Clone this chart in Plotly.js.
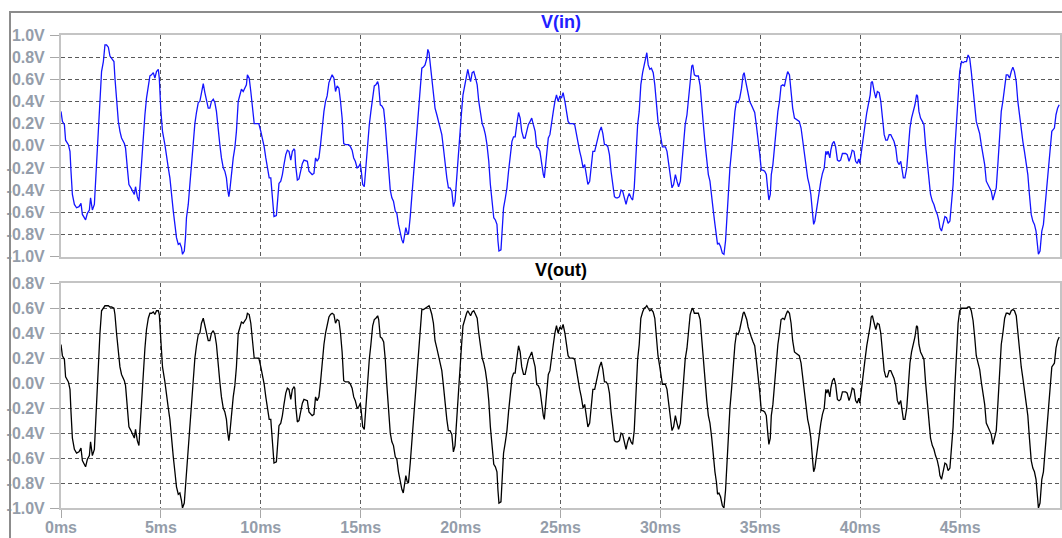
<!DOCTYPE html>
<html>
<head>
<meta charset="utf-8">
<script src="https://cdn.plot.ly/plotly-3.0.1.min.js"></script>
<style>
  html, body { margin: 0; padding: 0; background: #ffffff; overflow: hidden; }
  #chart { position: absolute; left: 0; top: 0; width: 1062px; height: 538px; }
  #frame { position: absolute; left: 9px; top: 11px; width: 1200px; height: 700px;
           border-left: 2px solid #8c8c8c; border-top: 2px solid #8c8c8c; pointer-events: none; }
</style>
</head>
<body>
<div id="chart"></div>
<div id="frame"></div>
<script>
// ---- sample times (ms) ----
const timeMs = [
  0.00,0.07,0.17,0.23,0.37,0.45,0.50,0.57,0.67,0.78,0.90,1.00,1.07,1.17,1.23,1.32,1.42,1.48,1.57,1.67,1.73,1.80,1.87,1.95,2.03,2.12,2.20,2.28,2.37,2.45,2.53,2.65,2.70,2.78,2.87,2.95,3.03,3.17,3.23,3.32,3.40,3.50,3.58,3.67,3.73,3.82,3.90,3.97,4.03,4.12,4.20,4.28,4.37,4.45,4.53,4.62,4.70,4.78,4.87,4.92,5.00,5.08,5.20,5.28,5.37,5.45,5.53,5.62,5.70,5.78,5.87,5.95,6.03,6.08,6.17,6.23,6.28,6.37,6.45,6.53,6.62,6.70,6.78,6.87,6.95,7.03,7.12,7.20,7.28,7.37,7.45,7.53,7.62,7.70,7.78,7.87,7.95,8.03,8.12,8.20,8.28,8.33,8.40,8.45,8.53,8.62,8.70,8.78,8.87,8.95,9.03,9.12,9.20,9.28,9.33,9.42,9.50,9.58,9.67,9.78,9.90,10.00,10.08,
  10.17,10.25,10.33,10.42,10.50,10.55,10.61,10.66,10.78,10.85,10.91,11.00,11.08,11.16,11.25,11.33,11.41,11.50,11.58,11.66,11.70,11.74,11.83,11.91,12.00,12.08,12.16,12.33,12.41,12.49,12.57,12.66,12.74,12.82,12.91,12.99,13.07,13.16,13.24,13.32,13.41,13.49,13.57,13.66,13.74,13.82,13.91,13.99,14.07,14.15,14.24,14.40,14.49,14.57,14.65,14.73,14.82,14.90,14.98,15.03,15.10,15.18,15.23,15.28,15.35,15.43,15.51,15.60,15.68,15.76,15.85,15.90,15.98,16.06,16.15,16.23,16.31,16.40,16.48,16.56,16.64,16.73,16.81,16.89,16.98,17.06,17.13,17.19,17.26,17.33,17.39,17.48,17.56,17.64,17.72,17.81,17.89,17.97,18.06,18.14,18.22,18.31,18.36,18.42,18.47,18.56,18.64,18.72,18.81,18.89,18.97,19.06,19.14,19.22,19.31,19.39,19.47,19.56,19.64,19.72,19.79,19.86,19.92,20.00,
  20.05,20.12,20.22,20.30,20.36,20.45,20.50,20.58,20.66,20.75,20.83,20.91,20.99,21.08,21.16,21.24,21.32,21.41,21.49,21.57,21.66,21.74,21.82,21.87,21.92,22.02,22.07,22.15,22.24,22.32,22.40,22.48,22.57,22.65,22.73,22.81,22.90,22.98,23.06,23.15,23.23,23.31,23.39,23.48,23.56,23.64,23.73,23.81,23.89,23.97,24.06,24.14,24.19,24.26,24.30,24.39,24.47,24.55,24.64,24.72,24.80,24.88,24.97,25.05,25.13,25.22,25.30,25.38,25.46,25.63,25.71,25.79,25.88,25.96,26.04,26.13,26.21,26.29,26.37,26.46,26.54,26.62,26.71,26.79,26.87,26.95,27.04,27.12,27.20,27.28,27.37,27.45,27.53,27.62,27.70,27.78,27.86,27.95,28.03,28.11,28.19,28.28,28.36,28.44,28.53,28.61,28.69,28.77,28.86,28.94,29.02,29.11,29.19,29.27,29.32,29.39,29.47,29.55,29.64,29.72,29.80,29.88,29.96,30.04,
  30.10,30.17,30.25,30.33,30.41,30.50,30.58,30.66,30.75,30.83,30.91,31.00,31.08,31.16,31.24,31.33,31.41,31.49,31.57,31.62,31.70,31.79,31.90,31.99,32.07,32.15,32.24,32.32,32.40,32.48,32.57,32.65,32.73,32.81,32.86,32.93,33.01,33.10,33.18,33.26,33.33,33.39,33.48,33.56,33.64,33.73,33.81,33.89,33.97,34.06,34.14,34.19,34.26,34.32,34.39,34.47,34.55,34.64,34.72,34.80,34.89,34.97,35.05,35.13,35.22,35.30,35.38,35.43,35.50,35.55,35.63,35.71,35.79,35.88,35.96,36.04,36.13,36.21,36.29,36.37,36.46,36.54,36.62,36.71,36.79,36.87,36.95,37.04,37.12,37.20,37.29,37.37,37.45,37.53,37.62,37.67,37.73,37.80,37.86,37.95,38.03,38.11,38.20,38.28,38.33,38.39,38.48,38.53,38.61,38.69,38.77,38.86,38.94,39.02,39.11,39.19,39.27,39.35,39.44,39.52,39.60,39.69,39.77,39.85,39.93,39.98,
  40.04,40.10,40.17,40.25,40.33,40.42,40.50,40.55,40.61,40.70,40.78,40.86,40.95,41.03,41.11,41.20,41.28,41.36,41.45,41.53,41.61,41.69,41.78,41.86,41.94,42.03,42.08,42.16,42.24,42.33,42.41,42.49,42.57,42.66,42.74,42.82,42.87,42.94,43.02,43.11,43.19,43.27,43.36,43.44,43.52,43.61,43.69,43.77,43.86,43.94,43.99,44.07,44.15,44.24,44.32,44.40,44.49,44.57,44.65,44.73,44.82,44.90,44.98,45.07,45.15,45.23,45.32,45.40,45.48,45.56,45.65,45.73,45.81,45.90,45.98,46.06,46.15,46.23,46.31,46.40,46.48,46.56,46.64,46.73,46.81,46.89,46.98,47.06,47.14,47.23,47.31,47.39,47.48,47.56,47.64,47.72,47.81,47.89,47.97,48.06,48.14,48.22,48.31,48.39,48.47,48.56,48.64,48.72,48.80,48.85,48.92,49.00,49.09,49.17,49.25,49.34,49.42,49.50,49.59,49.67,49.72,49.80,49.88,49.96
];

// ---- V(in) values (V) ----
const vIn = [
  0.31,0.22,0.19,0.05,0.01,-0.05,-0.23,-0.44,-0.53,-0.56,-0.55,-0.52,-0.62,-0.65,-0.67,-0.61,-0.58,-0.47,-0.58,-0.53,-0.32,-0.05,0.19,0.40,0.67,0.76,0.91,0.91,0.89,0.81,0.79,0.76,0.61,0.40,0.22,0.13,0.07,0.02,-0.02,-0.20,-0.35,-0.38,-0.41,-0.44,-0.37,-0.46,-0.50,-0.32,-0.11,0.13,0.28,0.43,0.55,0.63,0.64,0.66,0.61,0.67,0.69,0.61,0.31,0.13,0.01,-0.11,-0.20,-0.29,-0.47,-0.59,-0.71,-0.83,-0.89,-0.88,-0.92,-0.98,-0.95,-0.83,-0.65,-0.53,-0.35,-0.17,0.04,0.20,0.30,0.39,0.40,0.49,0.56,0.48,0.42,0.34,0.34,0.40,0.42,0.39,0.31,0.13,0.01,-0.11,-0.20,-0.23,-0.29,-0.38,-0.46,-0.40,-0.23,-0.11,-0.02,0.13,0.40,0.45,0.51,0.49,0.52,0.55,0.64,0.61,0.49,0.37,0.20,0.20,0.20,0.13,0.07,
  -0.01,-0.11,-0.20,-0.29,-0.29,-0.38,-0.53,-0.64,-0.63,-0.47,-0.34,-0.32,-0.26,-0.17,-0.08,-0.04,-0.05,-0.13,-0.05,-0.03,-0.04,-0.17,-0.31,-0.30,-0.23,-0.16,-0.13,-0.14,-0.23,-0.25,-0.26,-0.25,-0.11,-0.14,-0.11,0.01,0.16,0.31,0.40,0.45,0.57,0.61,0.64,0.61,0.49,0.54,0.52,0.40,0.25,0.02,0.01,0.01,-0.01,-0.04,-0.11,-0.14,-0.20,-0.19,-0.16,-0.23,-0.35,-0.37,-0.26,-0.11,0.04,0.19,0.31,0.46,0.54,0.55,0.58,0.54,0.37,0.36,0.33,0.19,-0.02,-0.23,-0.40,-0.47,-0.50,-0.59,-0.61,-0.71,-0.80,-0.85,-0.88,-0.80,-0.74,-0.79,-0.80,-0.64,-0.46,-0.29,-0.11,0.10,0.28,0.46,0.70,0.71,0.73,0.79,0.87,0.84,0.76,0.61,0.49,0.34,0.28,0.22,0.16,0.10,-0.02,-0.17,-0.29,-0.38,-0.38,-0.41,-0.55,-0.50,-0.32,-0.14,0.05,0.16,
  0.31,0.46,0.57,0.64,0.69,0.61,0.58,0.66,0.67,0.61,0.55,0.40,0.28,0.20,0.16,0.10,0.01,-0.14,-0.35,-0.50,-0.65,-0.67,-0.71,-0.86,-0.95,-0.94,-0.80,-0.56,-0.47,-0.38,-0.23,-0.11,0.04,0.08,0.08,0.19,0.30,0.25,0.13,0.07,0.07,0.13,0.19,0.22,0.25,0.19,0.13,-0.01,-0.02,-0.05,-0.17,-0.26,-0.29,-0.17,-0.05,0.07,0.10,0.22,0.31,0.40,0.46,0.40,0.45,0.43,0.48,0.40,0.31,0.22,0.20,0.20,0.19,0.10,0.02,-0.05,-0.11,-0.20,-0.17,-0.26,-0.35,-0.32,-0.17,-0.05,-0.05,0.01,0.08,0.13,0.17,0.11,0.01,0.01,-0.01,-0.08,-0.23,-0.38,-0.46,-0.47,-0.47,-0.46,-0.40,-0.41,-0.47,-0.53,-0.47,-0.43,-0.47,-0.49,-0.38,-0.11,0.19,0.31,0.55,0.66,0.73,0.82,0.84,0.73,0.69,0.70,0.66,0.55,0.35,0.22,0.14,0.05,
  -0.01,-0.01,-0.01,-0.05,-0.17,-0.26,-0.38,-0.35,-0.26,-0.32,-0.37,-0.32,-0.14,0.07,0.19,0.28,0.42,0.61,0.72,0.73,0.64,0.63,0.63,0.54,0.34,0.19,0.01,-0.14,-0.26,-0.32,-0.44,-0.59,-0.71,-0.80,-0.89,-0.88,-0.91,-0.97,-0.98,-0.86,-0.65,-0.41,-0.20,-0.05,0.13,0.31,0.40,0.39,0.43,0.52,0.64,0.66,0.59,0.54,0.45,0.40,0.37,0.33,0.30,0.19,0.07,-0.07,-0.22,-0.22,-0.23,-0.26,-0.41,-0.49,-0.44,-0.26,-0.17,0.01,0.16,0.31,0.40,0.54,0.55,0.54,0.61,0.67,0.64,0.49,0.34,0.25,0.24,0.23,0.22,0.16,0.04,-0.05,-0.17,-0.29,-0.35,-0.44,-0.62,-0.71,-0.68,-0.59,-0.53,-0.41,-0.32,-0.25,-0.20,-0.05,-0.08,-0.05,-0.11,-0.04,0.02,0.04,-0.01,-0.13,-0.14,-0.13,-0.07,-0.07,-0.07,-0.08,-0.14,-0.10,-0.04,-0.05,-0.14,-0.16,-0.12,-0.16,
  -0.08,0.05,0.13,0.20,0.30,0.37,0.46,0.57,0.58,0.49,0.43,0.49,0.48,0.40,0.22,0.10,0.05,0.05,0.10,0.10,0.07,0.04,-0.02,-0.14,-0.17,-0.14,-0.20,-0.29,-0.29,-0.20,-0.02,0.16,0.25,0.31,0.37,0.46,0.45,0.31,0.25,0.22,0.19,0.01,-0.17,-0.35,-0.44,-0.50,-0.53,-0.58,-0.62,-0.68,-0.74,-0.77,-0.71,-0.64,-0.65,-0.70,-0.68,-0.53,-0.35,-0.05,0.22,0.49,0.67,0.76,0.75,0.76,0.76,0.82,0.79,0.67,0.52,0.37,0.22,0.16,0.11,0.01,-0.08,-0.17,-0.32,-0.35,-0.37,-0.41,-0.49,-0.44,-0.38,-0.17,0.10,0.31,0.40,0.55,0.64,0.64,0.61,0.67,0.71,0.67,0.58,0.40,0.28,0.13,0.04,-0.05,-0.17,-0.26,-0.44,-0.62,-0.68,-0.71,-0.77,-0.86,-0.98,-0.95,-0.77,-0.71,-0.53,-0.38,-0.23,-0.05,0.13,0.15,0.16,0.28,0.34,0.37
];

// ---- V(out) values (V) ----
const vOut = [
  0.31,0.22,0.19,0.05,0.01,-0.05,-0.23,-0.44,-0.53,-0.56,-0.55,-0.52,-0.62,-0.65,-0.67,-0.61,-0.58,-0.47,-0.58,-0.53,-0.32,-0.05,0.19,0.40,0.58,0.60,0.62,0.62,0.62,0.61,0.61,0.60,0.55,0.40,0.22,0.13,0.07,0.02,-0.02,-0.20,-0.35,-0.38,-0.41,-0.44,-0.37,-0.46,-0.50,-0.32,-0.11,0.13,0.28,0.43,0.52,0.56,0.56,0.57,0.55,0.58,0.58,0.55,0.31,0.13,0.01,-0.11,-0.20,-0.29,-0.47,-0.59,-0.71,-0.83,-0.89,-0.88,-0.94,-1.00,-0.96,-0.83,-0.65,-0.53,-0.35,-0.17,0.04,0.20,0.30,0.39,0.40,0.48,0.52,0.47,0.42,0.34,0.34,0.40,0.42,0.39,0.31,0.13,0.01,-0.11,-0.20,-0.23,-0.29,-0.38,-0.46,-0.40,-0.23,-0.11,-0.02,0.13,0.40,0.45,0.49,0.48,0.50,0.52,0.56,0.55,0.48,0.37,0.20,0.20,0.20,0.13,0.07,
  -0.01,-0.11,-0.20,-0.29,-0.29,-0.38,-0.53,-0.64,-0.63,-0.47,-0.34,-0.32,-0.26,-0.17,-0.08,-0.04,-0.05,-0.13,-0.05,-0.03,-0.04,-0.17,-0.31,-0.30,-0.23,-0.16,-0.13,-0.14,-0.23,-0.25,-0.26,-0.25,-0.11,-0.14,-0.11,0.01,0.16,0.31,0.40,0.45,0.53,0.55,0.56,0.55,0.48,0.51,0.50,0.40,0.25,0.02,0.01,0.01,-0.01,-0.04,-0.11,-0.14,-0.20,-0.19,-0.16,-0.23,-0.35,-0.37,-0.26,-0.11,0.04,0.19,0.31,0.46,0.51,0.52,0.54,0.51,0.37,0.36,0.33,0.19,-0.02,-0.23,-0.40,-0.47,-0.50,-0.59,-0.61,-0.71,-0.80,-0.85,-0.88,-0.80,-0.74,-0.79,-0.80,-0.64,-0.46,-0.29,-0.11,0.10,0.28,0.46,0.59,0.59,0.60,0.61,0.62,0.62,0.60,0.55,0.48,0.34,0.28,0.22,0.16,0.10,-0.02,-0.17,-0.29,-0.38,-0.38,-0.41,-0.55,-0.50,-0.32,-0.14,0.05,0.16,
  0.31,0.46,0.53,0.56,0.58,0.55,0.54,0.57,0.58,0.55,0.52,0.40,0.28,0.20,0.16,0.10,0.01,-0.14,-0.35,-0.50,-0.65,-0.67,-0.71,-0.86,-0.96,-0.95,-0.80,-0.56,-0.47,-0.38,-0.23,-0.11,0.04,0.08,0.08,0.19,0.30,0.25,0.13,0.07,0.07,0.13,0.19,0.22,0.25,0.19,0.13,-0.01,-0.02,-0.05,-0.17,-0.26,-0.29,-0.17,-0.05,0.07,0.10,0.22,0.31,0.40,0.46,0.40,0.45,0.43,0.47,0.40,0.31,0.22,0.20,0.20,0.19,0.10,0.02,-0.05,-0.11,-0.20,-0.17,-0.26,-0.35,-0.32,-0.17,-0.05,-0.05,0.01,0.08,0.13,0.17,0.11,0.01,0.01,-0.01,-0.08,-0.23,-0.38,-0.46,-0.47,-0.47,-0.46,-0.40,-0.41,-0.47,-0.53,-0.47,-0.43,-0.47,-0.49,-0.38,-0.11,0.19,0.31,0.52,0.57,0.60,0.61,0.62,0.60,0.58,0.59,0.57,0.52,0.35,0.22,0.14,0.05,
  -0.01,-0.01,-0.01,-0.05,-0.17,-0.26,-0.38,-0.35,-0.26,-0.32,-0.37,-0.32,-0.14,0.07,0.19,0.28,0.42,0.55,0.59,0.60,0.56,0.56,0.56,0.51,0.34,0.19,0.01,-0.14,-0.26,-0.32,-0.44,-0.59,-0.71,-0.80,-0.89,-0.88,-0.91,-0.98,-1.00,-0.86,-0.65,-0.41,-0.20,-0.05,0.13,0.31,0.40,0.39,0.43,0.50,0.56,0.57,0.54,0.51,0.45,0.40,0.37,0.33,0.30,0.19,0.07,-0.07,-0.22,-0.22,-0.23,-0.26,-0.41,-0.49,-0.44,-0.26,-0.17,0.01,0.16,0.31,0.40,0.51,0.52,0.51,0.55,0.58,0.56,0.48,0.34,0.25,0.24,0.23,0.22,0.16,0.04,-0.05,-0.17,-0.29,-0.35,-0.44,-0.62,-0.71,-0.68,-0.59,-0.53,-0.41,-0.32,-0.25,-0.20,-0.05,-0.08,-0.05,-0.11,-0.04,0.02,0.04,-0.01,-0.13,-0.14,-0.13,-0.07,-0.07,-0.07,-0.08,-0.14,-0.10,-0.04,-0.05,-0.14,-0.16,-0.12,-0.16,
  -0.08,0.05,0.13,0.20,0.30,0.37,0.46,0.53,0.54,0.48,0.43,0.48,0.47,0.40,0.22,0.10,0.05,0.05,0.10,0.10,0.07,0.04,-0.02,-0.14,-0.17,-0.14,-0.20,-0.29,-0.29,-0.20,-0.02,0.16,0.25,0.31,0.37,0.46,0.45,0.31,0.25,0.22,0.19,0.01,-0.17,-0.35,-0.44,-0.50,-0.53,-0.58,-0.62,-0.68,-0.74,-0.77,-0.71,-0.64,-0.65,-0.70,-0.68,-0.53,-0.35,-0.05,0.22,0.48,0.58,0.60,0.60,0.60,0.60,0.61,0.61,0.58,0.50,0.37,0.22,0.16,0.11,0.01,-0.08,-0.17,-0.32,-0.35,-0.37,-0.41,-0.49,-0.44,-0.38,-0.17,0.10,0.31,0.40,0.52,0.56,0.56,0.55,0.58,0.59,0.58,0.54,0.40,0.28,0.13,0.04,-0.05,-0.17,-0.26,-0.44,-0.62,-0.68,-0.71,-0.77,-0.86,-1.00,-0.96,-0.77,-0.71,-0.53,-0.38,-0.23,-0.05,0.13,0.15,0.16,0.28,0.34,0.37
];

// ---- tick values and labels ----
const xTickVals = [0, 5, 10, 15, 20, 25, 30, 35, 40, 45];
const xTickText = ["0ms", "5ms", "10ms", "15ms", "20ms", "25ms", "30ms", "35ms", "40ms", "45ms"];
const yInTickVals = [1.0, 0.8, 0.6, 0.4, 0.2, 0.0, -0.2, -0.4, -0.6, -0.8, -1.0];
const yInTickText = ["1.0V", "0.8V", "0.6V", "0.4V", "0.2V", "0.0V", "-0.2V", "-0.4V", "-0.6V", "-0.8V", "-1.0V"];
const yOutTickVals = [0.8, 0.6, 0.4, 0.2, 0.0, -0.2, -0.4, -0.6, -0.8, -1.0];
const yOutTickText = ["0.8V", "0.6V", "0.4V", "0.2V", "0.0V", "-0.2V", "-0.4V", "-0.6V", "-0.8V", "-1.0V"];
const panelTitles = ["V(in)", "V(out)"];

if (timeMs.length !== vIn.length || timeMs.length !== vOut.length) {
  throw new Error("length mismatch: t=" + timeMs.length + " in=" + vIn.length + " out=" + vOut.length);
}

const W = 1062, H = 538;
const M = { l: 61, r: 2, t: 35, b: 30 };
const plotH = H - M.t - M.b;
const topDomain = [(H - M.b - 256.5) / plotH, 1];
const botDomain = [0, (H - M.b - 283.3) / plotH];

const labelFont = { family: "Arial, 'Liberation Sans', sans-serif", size: 16, color: "#949daa", weight: "bold" };
const boxColor = "#c4c4c4";
const gridColor = "#5a5a5a";
const gridDash = "4px,3px";

const traces = [
  { x: timeMs, y: vIn, xaxis: "x2", yaxis: "y", type: "scatter", mode: "lines",
    line: { color: "#1414ff", width: 1.3 }, hoverinfo: "skip" },
  { x: timeMs, y: vOut, xaxis: "x", yaxis: "y2", type: "scatter", mode: "lines",
    line: { color: "#000000", width: 1.3 }, hoverinfo: "skip" }
];

const commonY = {
  showline: true, mirror: true, linecolor: boxColor, linewidth: 2,
  ticks: "outside", ticklen: 9, tickcolor: "#a8a8a8", tickwidth: 1,
  showgrid: true, gridcolor: gridColor, griddash: gridDash, gridwidth: 1,
  zeroline: false, tickfont: labelFont, ticklabelstandoff: 2, fixedrange: true
};

const layout = {
  width: W, height: H,
  margin: M,
  paper_bgcolor: "rgba(0,0,0,0)",
  plot_bgcolor: "#ffffff",
  showlegend: false,
  xaxis: {
    domain: [0, 1], anchor: "y2", range: [0, 50],
    tickvals: xTickVals, ticktext: xTickText,
    showline: true, mirror: true, linecolor: boxColor, linewidth: 2,
    ticks: "outside", ticklen: 8, tickcolor: "#a8a8a8", tickwidth: 1,
    showgrid: true, gridcolor: gridColor, griddash: gridDash, gridwidth: 1,
    zeroline: false, tickfont: labelFont, ticklabelstandoff: -4, fixedrange: true
  },
  xaxis2: {
    domain: [0, 1], anchor: "y", matches: "x", range: [0, 50],
    tickvals: xTickVals, showticklabels: false, ticks: "",
    showline: true, mirror: true, linecolor: boxColor, linewidth: 2,
    showgrid: true, gridcolor: gridColor, griddash: gridDash, gridwidth: 1,
    zeroline: false, fixedrange: true
  },
  yaxis: Object.assign({}, commonY, {
    domain: topDomain, anchor: "x2", range: [-1, 1],
    tickvals: yInTickVals, ticktext: yInTickText
  }),
  yaxis2: Object.assign({}, commonY, {
    domain: botDomain, anchor: "x", range: [-1, 0.8],
    tickvals: yOutTickVals, ticktext: yOutTickText
  }),
  annotations: [
    { text: panelTitles[0], xref: "paper", yref: "paper", x: 0.5, y: topDomain[1],
      yshift: 13, xanchor: "center", yanchor: "middle", showarrow: false,
      font: { family: "Arial, 'Liberation Sans', sans-serif", size: 18, color: "#2020ff", weight: "bold" } },
    { text: panelTitles[1], xref: "paper", yref: "paper", x: 0.5, y: botDomain[1],
      yshift: 13, xanchor: "center", yanchor: "middle", showarrow: false,
      font: { family: "Arial, 'Liberation Sans', sans-serif", size: 18, color: "#000000", weight: "bold" } }
  ]
};

Plotly.newPlot("chart", traces, layout, { staticPlot: true, displayModeBar: false });
</script>
</body>
</html>
